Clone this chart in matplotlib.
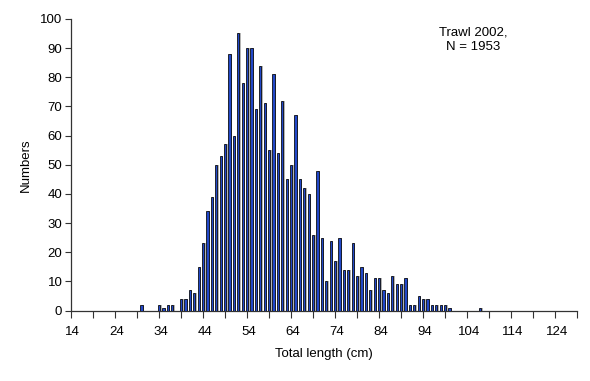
import numpy as np
import matplotlib
matplotlib.use("Agg")
import matplotlib.pyplot as plt

plt.rcParams['font.family'] = ['Liberation Sans', 'DejaVu Sans']

# length classes (cm) and counts
lengths = list(range(14, 129))
counts_by_length = {
    30: 2, 34: 2, 35: 1, 36: 2, 37: 2,
    39: 4, 40: 4, 41: 7, 42: 6, 43: 15, 44: 23,
    45: 34, 46: 39, 47: 50, 48: 53, 49: 57,
    50: 88, 51: 60, 52: 95, 53: 78, 54: 90, 55: 90,
    56: 69, 57: 84, 58: 71, 59: 55, 60: 81, 61: 54,
    62: 72, 63: 45, 64: 50, 65: 67, 66: 45, 67: 42,
    68: 40, 69: 26, 70: 48, 71: 25, 72: 10, 73: 24,
    74: 17, 75: 25, 76: 14, 77: 14, 78: 23, 79: 12,
    80: 15, 81: 13, 82: 7, 83: 11, 84: 11, 85: 7,
    86: 6, 87: 12, 88: 9, 89: 9, 90: 11, 91: 2,
    92: 2, 93: 5, 94: 4, 95: 4, 96: 2, 97: 2, 98: 2, 99: 2, 100: 1,
    107: 1,
}
counts = [counts_by_length.get(l, 0) for l in lengths]
label_lengths = list(range(14, 125, 10))

x = np.array(lengths)
y = np.array(counts)

fig = plt.figure(figsize=(5.9, 3.81), dpi=100)
ax = fig.add_axes([0.1198, 0.185, 0.8577, 0.7654])

# gray shadow behind each bar, then the bar itself
ax.bar(x - 0.1, y, width=0.55, color='#b4b4b4', linewidth=0, zorder=2)
ax.bar(x - 0.4, y, width=0.5, color='#2248c8', edgecolor='black',
       linewidth=0.55, zorder=3)

ax.set_xlim(13.5, 128.5)
ax.set_ylim(0, 100)

ax.set_yticks(range(0, 101, 10))
ax.tick_params(axis='y', direction='out', length=4, width=0.8,
               labelsize=9.5, pad=2, color='#333333')

# labels sit on the class, tick marks between classes every 5 cm
ax.set_xticks(label_lengths)
ax.set_xticklabels([str(v) for v in label_lengths])
ax.set_xticks(np.arange(13.5, 129, 5), minor=True)
ax.tick_params(axis='x', which='major', length=0, labelsize=9.5, pad=11)
ax.tick_params(axis='x', which='minor', direction='out', length=5,
               width=0.8, color='#333333')

for side in ['top', 'right']:
    ax.spines[side].set_visible(False)
for side in ['left', 'bottom']:
    ax.spines[side].set_color('#333333')
    ax.spines[side].set_linewidth(0.9)

ax.set_xlabel('Total length (cm)', fontsize=9.5, labelpad=7)
ax.set_ylabel('Numbers', fontsize=9.5, labelpad=6)

ax.text(0.795, 0.975, 'Trawl 2002,\nN = 1953', transform=ax.transAxes,
        ha='center', va='top', fontsize=9.5, linespacing=1.3)

fig.savefig('out.png', dpi=100)
